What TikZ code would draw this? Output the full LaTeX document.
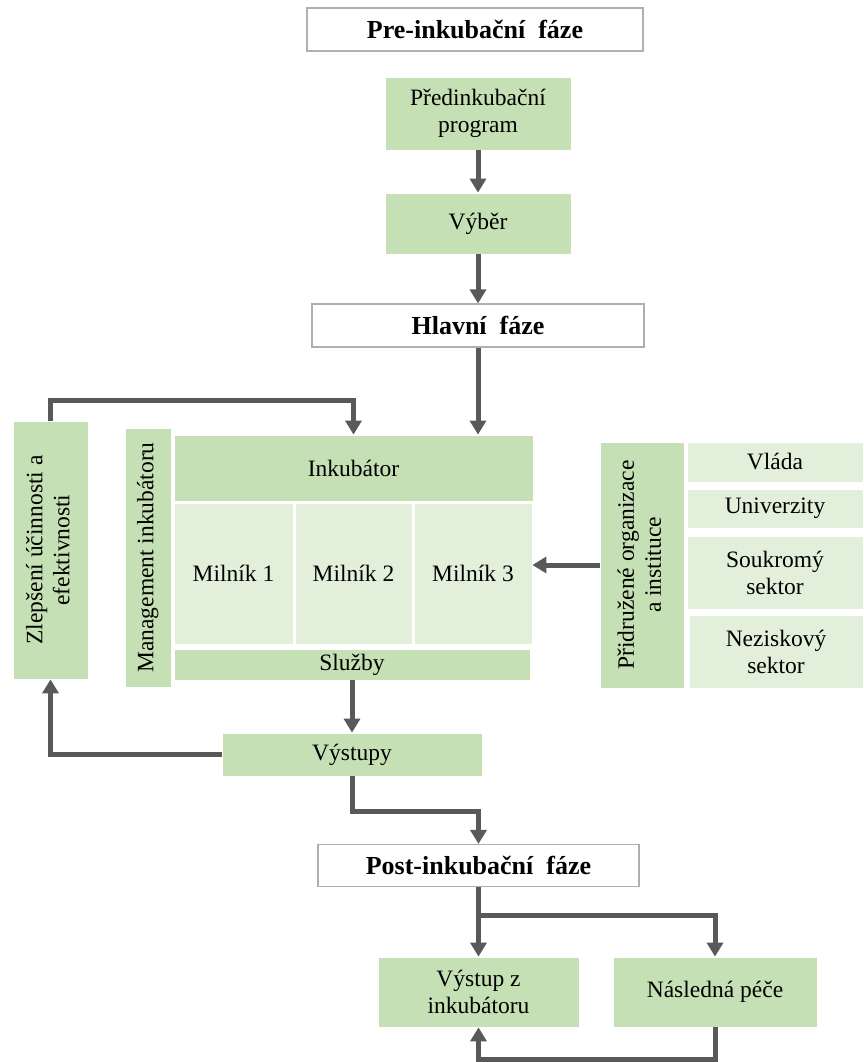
\documentclass[tikz,border=0pt]{standalone}
\usepackage{fontspec}
\usepackage{graphicx}
\setmainfont{Liberation Serif}
\usetikzlibrary{arrows.meta}
\definecolor{gmain}{HTML}{C5E0B4}
\definecolor{glight}{HTML}{E2EFDA}
\definecolor{arrcol}{HTML}{595959}
\definecolor{bordcol}{HTML}{AFAFAF}
\newcommand{\vtext}[1]{\rotatebox{90}{\begin{tabular}{@{}c@{}}#1\end{tabular}}}
\begin{document}
\begin{tikzpicture}[x=1pt,y=-1pt,
  font=\fontsize{23.5}{27}\selectfont,
  gbox/.style={rectangle, inner sep=0pt, align=center, fill=gmain, draw=white, line width=0.8pt},
  lbox/.style={gbox, fill=glight},
  phasebox/.style={rectangle, inner sep=0pt, align=center, fill=white, draw=bordcol, line width=1.2pt, font=\fontsize{26}{30}\selectfont\bfseries},
  conn/.style={draw=arrcol, line width=5pt, -{Triangle[width=16pt,length=14pt]}}]
\useasboundingbox (0,0) rectangle (863,1062);

\node[phasebox, minimum width=336pt, minimum height=43pt] (p1) at (475,29.5) {Pre-inkubační\ \ fáze};
\node[gbox, minimum width=186pt, minimum height=73pt] (prog) at (478,113.5) {Předinkubační\\program};
\node[gbox, minimum width=186pt, minimum height=61pt] (vyb) at (478,223.5) {Výběr};
\node[phasebox, minimum width=332pt, minimum height=43pt] (p2) at (478,325.5) {Hlavní\ \ fáze};

\node[gbox, minimum width=75pt, minimum height=258pt] (zlep) at (50.5,550) {\vtext{Zlepšení účinnosti a\\efektivnosti}};
\node[gbox, minimum width=46pt, minimum height=259pt] (mgmt) at (148,557.5) {\vtext{Management inkubátoru}};
\node[gbox, minimum width=359pt, minimum height=66pt] (ink) at (353.5,468) {Inkubátor};
\node[lbox, minimum width=119pt, minimum height=141pt] (m1) at (233.5,573.5) {Milník 1};
\node[lbox, minimum width=117pt, minimum height=141pt] (m2) at (353.5,573.5) {Milník 2};
\node[lbox, minimum width=118pt, minimum height=141pt] (m3) at (473,573.5) {Milník 3};
\node[gbox, minimum width=356pt, minimum height=31pt] (sluz) at (352,664.5) {Služby};
\node[gbox, minimum width=260pt, minimum height=43pt] (vyst) at (352,754.5) {Výstupy};

\node[gbox, minimum width=84pt, minimum height=246pt] (prid) at (642,565) {\vtext{Přidružené organizace\\a instituce}};
\node[lbox, minimum width=176pt, minimum height=40pt] (vlada) at (775,462) {Vláda};
\node[lbox, minimum width=176pt, minimum height=39pt] (univ) at (775,508.5) {Univerzity};
\node[lbox, minimum width=176pt, minimum height=73pt] (souk) at (775,572.5) {Soukromý\\sektor};
\node[lbox, minimum width=174pt, minimum height=73pt] (nezi) at (776,651.5) {Neziskový\\sektor};

\node[phasebox, minimum width=321pt, minimum height=42pt] (p3) at (478.5,865.5) {Post-inkubační\ \ fáze};
\node[gbox, minimum width=201pt, minimum height=70pt] (vz) at (478.5,992) {Výstup z\\inkubátoru};
\node[gbox, minimum width=204pt, minimum height=70pt] (np) at (715,992) {Následná péče};

\coordinate (ytop) at (0,400);
\coordinate (ymid) at (0,811);
\coordinate (ybr) at (0,915);
\coordinate (ybot) at (0,1059);

\draw[conn] (prog.south) -- (vyb.north);
\draw[conn] (vyb.south) -- (p2.north);
\draw[conn] (p2.south) -- (p2.south |- ink.north);
\draw[conn] (zlep.north) -- (zlep.north |- ytop) -| (ink.north);
\draw[conn] (sluz.south) -- (vyst.north);
\draw[conn] (vyst.west) -| (zlep.south);
\draw[conn] (prid.west) -- (prid.west -| m3.east);
\draw[conn] (vyst.south) -- (vyst.south |- ymid) -| (p3.north);
\draw[conn] (p3.south) -- (vz.north);
\draw[conn] (p3.south) -- (p3.south |- ybr) -| (np.north);
\draw[conn] (np.south) -- (np.south |- ybot) -| (vz.south);
\end{tikzpicture}
\end{document}
